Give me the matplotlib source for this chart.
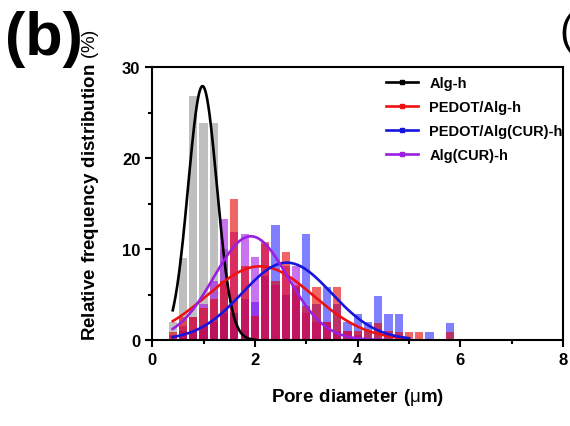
import numpy as np
import matplotlib.pyplot as plt
from matplotlib.lines import Line2D
from matplotlib.ticker import MultipleLocator

plt.rcParams['font.family'] = ['Liberation Sans', 'DejaVu Sans']
plt.rcParams['mathtext.fontset'] = 'custom'
plt.rcParams['mathtext.rm'] = 'Liberation Sans'
plt.rcParams['mathtext.bf'] = 'Liberation Sans:bold'

# bin centres (um), bin width 0.2
bins = np.round(np.arange(0.4, 6.0, 0.2), 1)

# relative frequency (%) per bin
alg_h = [2.0, 9.0, 26.8, 23.8, 23.8, 10.0, 3.0, 1.0, 0, 0, 0, 0, 0, 0,
         0, 0, 0, 0, 0, 0, 0, 0, 0, 0, 0, 0, 0, 0]
pedot_alg = [0.9, 2.5, 2.5, 3.5, 4.5, 6.5, 15.5, 8.1, 2.6, 10.8, 6.5, 9.7, 6.0, 3.7,
             5.8, 2.0, 5.8, 1.0, 1.0, 1.0, 1.9, 1.0, 0.9, 0.9, 0.9, 0, 0, 0.9]
pedot_alg_cur = [0, 1.0, 1.0, 1.5, 2.0, 3.0, 3.0, 4.5, 4.2, 7.0, 12.6, 5.0, 5.8, 11.6,
                 4.0, 5.8, 4.0, 2.0, 2.9, 2.0, 4.8, 2.9, 2.9, 0, 0, 0.9, 0, 1.9]
alg_cur = [0.5, 1.5, 2.5, 4.0, 6.5, 13.3, 11.9, 11.6, 9.1, 10.5, 6.0, 8.1, 8.1, 3.0,
           2.0, 2.0, 1.0, 1.0, 0.5, 0, 0, 0, 0, 0, 0, 0, 0, 0]

# Gaussian fit parameters: amplitude, centre, sigma, x range
names = ['Alg-h', 'PEDOT/Alg-h', 'PEDOT/Alg(CUR)-h', 'Alg(CUR)-h']
fit_amp = [27.9, 8.1, 8.5, 11.4]
fit_mu = [0.98, 2.1, 2.62, 1.92]
fit_sigma = [0.28, 1.03, 0.87, 0.72]
fit_end = [2.0, 5.0, 5.0, 4.6]

line_colors = ['black', '#ee1111', '#1515dd', '#9b1fe0']

fig = plt.figure(figsize=(5.7, 4.27), dpi=100)
ax = fig.add_axes([0.267, 0.2014, 0.721, 0.6393])

# drawing order: gray, blue, purple, red on top
ax.bar(bins, alg_h, width=0.16, color='#808080', alpha=0.5, linewidth=0)
ax.bar(bins, pedot_alg_cur, width=0.16, color='#0000ff', alpha=0.5, linewidth=0)
ax.bar(bins, alg_cur, width=0.16, color='#9d00e6', alpha=0.55, linewidth=0)
ax.bar(bins, pedot_alg, width=0.16, color='#e60000', alpha=0.6, linewidth=0)

for A, mu, s, end, c in zip(fit_amp, fit_mu, fit_sigma, fit_end, line_colors):
    x = np.linspace(0.4, end, 200)
    ax.plot(x, A * np.exp(-(x - mu) ** 2 / (2 * s ** 2)), color=c, lw=1.9)

ax.set_xlim(0, 8)
ax.set_ylim(0, 30)
ax.xaxis.set_major_locator(MultipleLocator(2))
ax.xaxis.set_minor_locator(MultipleLocator(1))
ax.yaxis.set_major_locator(MultipleLocator(10))
ax.yaxis.set_minor_locator(MultipleLocator(5))
ax.tick_params(which='major', length=5, width=1.5, labelsize=12, direction='out')
ax.tick_params(which='minor', length=3, width=1.5, direction='out')
for lab in ax.get_xticklabels() + ax.get_yticklabels():
    lab.set_fontweight('bold')
for sp in ax.spines.values():
    sp.set_linewidth(1.5)

ax.set_xlabel(r'$\bf{Pore\ diameter\ (}$μ$\bf{m)}$', fontsize=13.5, labelpad=14)
ax.set_ylabel(r'$\bf{Relative\ frequency\ distribution}$ (%)', fontsize=13.5)
ax.yaxis.set_label_coords(-0.125, 0.57)

handles = [Line2D([], [], color=c, lw=1.9, marker='s', markersize=3) for c in line_colors]
leg = ax.legend(handles, names, loc='upper right', frameon=False,
                prop={'weight': 'bold', 'size': 10.5}, handlelength=2.2,
                labelspacing=0.7, borderaxespad=0.2, bbox_to_anchor=(1.02, 1.0))

fig.text(0.008, 0.975, '(b)', fontsize=44, fontweight='bold', va='top', ha='left')
fig.text(0.982, 0.97, '(', fontsize=30, va='top', ha='left')

fig.savefig('out.png', dpi=100)
